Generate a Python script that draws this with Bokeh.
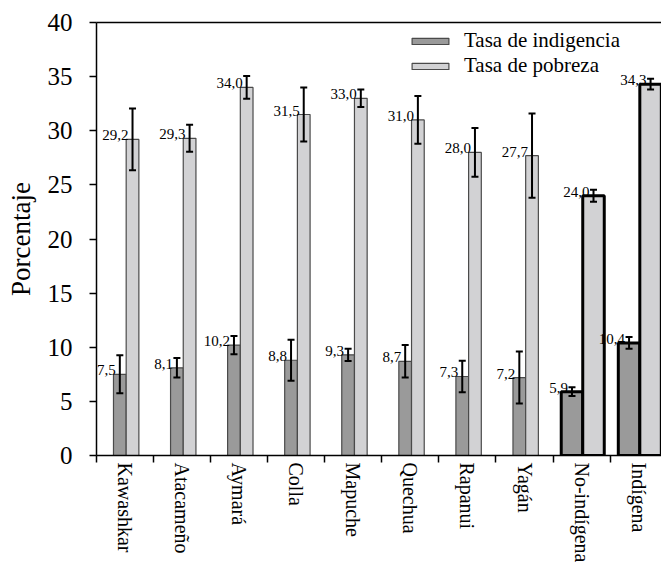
from bokeh.plotting import figure
from bokeh.models import (Range1d, FixedTicker, LinearAxis, Legend, LegendItem,
                          Whisker, ColumnDataSource, TeeHead)
from bokeh.embed import file_html
from bokeh.resources import INLINE

# Poverty and extreme-poverty rates by ethnic group (%), with error margins
categories = ["Kawashkar", "Atacameño", "Aymará", "Colla", "Mapuche",
              "Quechua", "Rapanui", "Yagán", "No-indígena", "Indígena"]
indigencia = [7.5, 8.1, 10.2, 8.8, 9.3, 8.7, 7.3, 7.2, 5.9, 10.4]
pobreza = [29.2, 29.3, 34.0, 31.5, 33.0, 31.0, 28.0, 27.7, 24.0, 34.3]
indigencia_err = [1.75, 0.9, 0.85, 1.9, 0.57, 1.5, 1.45, 2.4, 0.4, 0.55]
pobreza_err = [2.85, 1.25, 1.05, 2.5, 0.8, 2.2, 2.25, 3.9, 0.55, 0.5]
y_ticks = [0, 5, 10, 15, 20, 25, 30, 35, 40]

FONT = "Liberation Serif"
DARK = "#9a9a9a"
LIGHT = "#d2d2d4"
EDGE = "#4a4a4a"

n = len(categories)
highlighted = [c in ("No-indígena", "Indígena") for c in categories]
bar_w = [0.377 if h else 0.2225 for h in highlighted]
shift = 0.02


def fmt(v):
    return f"{v:.1f}".replace(".", ",")


def series_source(vals, errs, side):
    xs = [i + shift + side * w / 2 for i, w in enumerate(bar_w)]
    return dict(x=xs, top=vals, w=bar_w, upper=[v + e for v, e in zip(vals, errs)],
                lower=[v - e for v, e in zip(vals, errs)], label=[fmt(v) for v in vals])


series = [("ind", series_source(indigencia, indigencia_err, -1), DARK),
          ("pob", series_source(pobreza, pobreza_err, +1), LIGHT)]


def subset(d, mask):
    return ColumnDataSource({k: [v for v, m in zip(col, mask) if m] for k, col in d.items()})


normal = [not h for h in highlighted]

p = figure(width=661, height=565, x_range=Range1d(-0.5, 9.4), y_range=Range1d(0, 40),
           output_backend="svg", toolbar_location=None,
           min_border_left=96, min_border_right=0, min_border_top=22, min_border_bottom=110,
           background_fill_color="white", border_fill_color="white")
p.outline_line_color = None
p.xgrid.visible = False
p.ygrid.visible = False

# bars: regular groups with a thin edge, the two summary groups with a heavy black edge
renderers = {}
for name, d, color in series:
    renderers[name] = p.vbar(x="x", top="top", width="w", bottom=0, source=subset(d, normal),
                             fill_color=color, line_color=EDGE, line_width=1.2)
    p.vbar(x="x", top="top", width="w", bottom=0, source=subset(d, highlighted),
           fill_color=color, line_color="black", line_width=3)

# error bars and value labels on top of every bar
for name, d, color in series:
    src_all = ColumnDataSource(d)
    p.add_layout(Whisker(base="x", upper="upper", lower="lower", source=src_all,
                         dimension="height", line_color="black", line_width=2,
                         level="annotation",
                         upper_head=TeeHead(size=7, line_width=2, line_color="black"),
                         lower_head=TeeHead(size=7, line_width=2, line_color="black")))
    p.text(x="x", y="top", text="label", source=src_all, x_offset=-4, y_offset=-4,
           text_align="right", text_baseline="alphabetic",
           text_font=FONT, text_font_size="15px", text_color="black")

# x axis: category names at slot centres, tick marks on slot boundaries
xa = p.xaxis[0]
xa.ticker = FixedTicker(ticks=list(range(n)), minor_ticks=[i - 0.5 for i in range(n)])
xa.major_label_overrides = {i: c for i, c in enumerate(categories)}
xa.major_label_orientation = "vertical"
xa.major_label_text_font = FONT
xa.major_label_text_font_size = "20px"
xa.major_label_text_color = "black"
xa.major_tick_line_color = None
xa.major_tick_out = 0
xa.major_tick_in = 0
xa.major_label_standoff = 0
xa.minor_tick_out = 7
xa.minor_tick_in = 0
xa.minor_tick_line_color = "black"
xa.minor_tick_line_width = 1.5
xa.axis_line_color = "black"
xa.axis_line_width = 1.5

ya = p.yaxis[0]
ya.ticker = FixedTicker(ticks=y_ticks)
ya.axis_label = "Porcentaje"
ya.axis_label_text_font = FONT
ya.axis_label_text_font_size = "27px"
ya.axis_label_text_font_style = "normal"
ya.axis_label_text_color = "black"
ya.axis_label_standoff = 9
ya.major_label_text_font = FONT
ya.major_label_text_font_size = "25px"
ya.major_label_text_color = "black"
ya.major_label_standoff = 17
ya.major_tick_out = 7
ya.major_tick_in = 0
ya.major_tick_line_width = 1.5
ya.minor_tick_line_color = None
ya.axis_line_color = "black"
ya.axis_line_width = 1.5

# top frame line
top = LinearAxis(ticker=FixedTicker(ticks=[]), major_label_text_font_size="0px",
                 major_tick_line_color=None, minor_tick_line_color=None,
                 axis_line_color="black", axis_line_width=1.5)
p.add_layout(top, "above")

legend = Legend(items=[LegendItem(label="Tasa de indigencia", renderers=[renderers["ind"]]),
                       LegendItem(label="Tasa de pobreza", renderers=[renderers["pob"]])],
                location=(311, 377), orientation="vertical",
                glyph_width=46, glyph_height=8, label_height=24, spacing=0,
                label_standoff=11, padding=0, margin=0,
                label_text_font=FONT, label_text_font_size="21px", label_text_color="black",
                border_line_color=None, background_fill_alpha=0)
p.add_layout(legend)

open("out.html", "w").write(file_html(p, INLINE))
